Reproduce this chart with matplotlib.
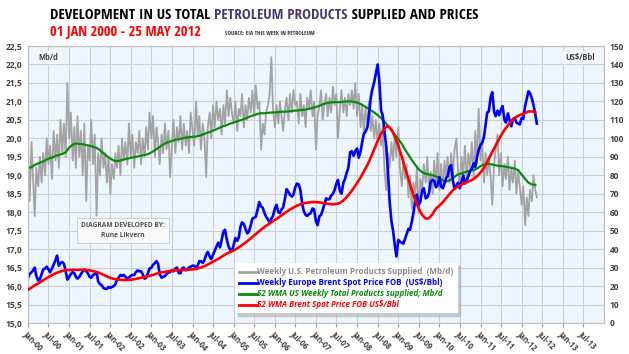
import matplotlib
matplotlib.use("Agg")
import matplotlib.pyplot as plt
from matplotlib import font_manager
import pandas as pd

# ---- data ----
# weekly U.S. petroleum products supplied, Mb/d (sampled twice a month)
supplied = [
    # 2000
    19.6, 18.3, 19.9, 18.9, 17.9, 19.2, 18.7, 19.5, 18.8, 19.6, 19.0, 20.0,
    19.3, 19.8, 18.9, 20.2, 19.4, 20.1, 19.2, 20.5, 19.6, 20.4, 19.5, 21.5,
    # 2001
    20.0, 20.7, 19.4, 20.3, 19.2, 20.6, 19.5, 20.2, 19.0, 20.4, 18.3, 19.8,
    19.4, 20.5, 19.3, 20.1, 17.9, 19.6, 19.0, 20.0, 19.2, 19.6, 18.8, 19.5,
    # 2002
    18.5, 19.3, 18.9, 19.6, 19.2, 19.8, 19.0, 20.0, 19.4, 19.9, 19.3, 20.4,
    19.5, 20.1, 19.2, 19.9, 19.6, 20.2, 19.3, 20.0, 19.5, 20.3, 19.7, 20.7,
    # 2003
    20.0, 20.6, 19.5, 20.3, 19.9, 19.3, 20.1, 19.6, 20.4, 19.7, 20.2, 18.95,
    19.8, 20.5, 19.6, 20.3, 19.9, 20.6, 19.7, 20.4, 19.8, 20.2, 19.6, 20.7,
    # 2004
    20.2, 19.8, 21.0, 20.1, 20.6, 19.7, 20.4, 20.0, 18.95, 20.3, 20.7, 20.0,
    20.9, 20.3, 21.0, 20.5, 20.8, 20.1, 20.9, 20.4, 21.3, 20.6, 21.1, 20.7,
    # 2005
    20.4, 21.0, 20.2, 20.8, 20.6, 21.2, 20.3, 20.9, 20.5, 21.1, 20.7, 21.3,
    20.6, 21.44, 20.8, 21.0, 19.7, 20.4, 20.1, 20.7, 20.9, 21.2, 22.2, 20.8,
    # 2006
    20.3, 20.9, 20.4, 21.0, 20.6, 20.2, 20.8, 21.1, 20.5, 21.2, 20.7, 21.3,
    20.9, 21.0, 20.4, 21.2, 20.6, 20.9, 20.3, 21.1, 20.8, 21.3, 20.6, 21.0,
    # 2007
    19.7, 20.6, 20.9, 21.3, 20.5, 20.9, 21.2, 20.6, 21.1, 20.7, 21.4, 20.9,
    21.2, 20.0, 20.8, 21.3, 20.7, 21.1, 20.6, 21.2, 20.9, 21.3, 20.8, 21.5,
    # 2008
    20.6, 21.2, 20.3, 20.9, 20.1, 20.8, 20.4, 21.0, 20.2, 20.6, 20.0, 20.5,
    19.9, 20.4, 19.8, 20.3, 19.1, 18.6, 19.6, 19.2, 19.9, 19.4, 20.1, 19.5,
    # 2009
    20.3, 19.2, 18.7, 19.5, 18.9, 19.3, 18.4, 19.0, 18.1, 18.8, 18.5, 19.2,
    17.98, 18.9, 18.6, 19.3, 18.8, 19.5, 18.6, 19.1, 18.5, 19.4, 18.7, 19.6,
    # 2010
    18.6, 19.3, 18.7, 19.4, 18.9, 19.5, 18.8, 19.6, 19.0, 19.7, 20.0, 19.1,
    18.7, 19.5, 19.0, 19.8, 18.9, 19.6, 19.2, 19.9, 18.9, 20.2, 19.3, 20.8,
    # 2011
    19.4, 19.9, 18.8, 19.6, 19.0, 19.5, 18.9, 18.2, 19.3, 19.7, 20.1, 19.0,
    19.6, 18.7, 19.3, 18.9, 19.5, 18.6, 19.2, 18.8, 19.4, 18.5, 19.1, 18.7,
    # 2012
    18.2, 18.7, 17.65, 18.4, 17.9, 18.6, 18.3, 19.0, 18.6, 18.4,
]

# weekly Europe Brent spot price FOB, US$/Bbl (sampled twice a month)
brent = [
    24.5, 26.5, 27.5, 28.5, 30.0, 25.5, 23.0, 23.5, 26.5, 29.0, 29.5, 30.5,
    29.0, 27.5, 29.5, 31.5, 34.0, 36.5, 31.0, 32.5, 33.0, 32.0, 28.0, 23.5,
    25.0, 26.5, 27.5, 27.0, 25.0, 24.0, 25.0, 26.5, 28.0, 29.0, 28.0, 27.0,
    25.0, 24.5, 26.0, 26.5, 27.5, 22.5, 21.0, 20.5, 19.0, 18.5, 18.5, 19.5,
    19.0, 19.5, 20.0, 21.0, 23.5, 24.5, 26.0, 25.5, 26.0, 25.0, 24.0, 24.5,
    25.5, 26.0, 26.0, 27.5, 28.5, 28.0, 28.0, 26.5, 24.0, 24.5, 27.0, 29.5,
    30.0, 31.5, 32.5, 33.5, 32.0, 26.5, 24.5, 25.0, 25.5, 26.5, 27.5, 27.5,
    28.5, 28.0, 29.5, 30.0, 27.0, 27.0, 29.5, 30.0, 28.5, 29.0, 30.0, 30.5,
    31.0, 31.0, 30.0, 31.0, 33.5, 33.5, 32.5, 34.0, 37.0, 38.5, 36.0, 34.5,
    37.0, 39.0, 41.5, 43.5, 41.0, 45.0, 49.5, 50.5, 45.0, 41.5, 39.5, 39.0,
    42.5, 46.0, 44.5, 46.5, 52.0, 54.5, 53.5, 51.0, 48.5, 49.5, 53.0, 56.5,
    57.0, 57.5, 61.5, 65.5, 63.0, 62.5, 59.5, 57.5, 56.0, 54.5, 56.5, 58.0,
    62.0, 64.0, 60.0, 59.5, 61.5, 62.5, 67.5, 72.5, 71.0, 69.5, 68.5, 69.5,
    73.5, 75.5, 75.0, 72.0, 64.5, 60.5, 58.5, 58.0, 59.0, 59.5, 62.0, 61.5,
    55.0, 53.0, 58.0, 58.5, 61.0, 64.0, 67.5, 67.0, 67.0, 69.0, 70.0, 72.0,
    75.5, 77.5, 71.5, 70.0, 76.0, 78.0, 81.5, 84.0, 92.5, 93.0, 90.5, 93.0,
    94.5, 89.5, 93.0, 98.0, 102.5, 103.5, 106.0, 112.5, 122.0, 126.5, 130.5, 135.0,
    140.0, 132.0, 115.0, 112.5, 103.0, 96.0, 82.0, 66.5, 55.0, 50.0, 42.0, 36.0,
    45.0, 44.0, 43.5, 43.0, 45.5, 48.0, 51.0, 50.5, 55.0, 59.5, 67.0, 69.5,
    64.0, 65.5, 72.0, 73.0, 67.5, 68.0, 70.5, 76.5, 77.5, 77.0, 73.5, 74.5,
    79.0, 74.0, 73.0, 75.5, 78.5, 79.5, 84.5, 85.5, 77.0, 72.5, 74.5, 76.0,
    73.0, 76.5, 80.0, 75.5, 77.5, 79.5, 82.5, 83.5, 86.5, 84.5, 90.0, 93.5,
    96.5, 97.5, 101.0, 107.5, 114.0, 114.5, 122.5, 125.0, 114.5, 112.0, 115.0, 112.5,
    115.5, 117.5, 110.0, 108.5, 113.5, 110.0, 106.5, 110.5, 111.0, 108.5, 108.0, 107.5,
    111.0, 110.5, 117.5, 121.5, 125.5, 124.5, 121.5, 118.0, 113.0, 108.0,
]

# 52 week moving average, products supplied (monthly)
wma_supplied = [
    19.20, 19.22, 19.28, 19.32, 19.36, 19.40, 19.45, 19.48, 19.52, 19.55, 19.58, 19.62,
    19.75, 19.83, 19.86, 19.85, 19.84, 19.82, 19.80, 19.77, 19.74, 19.68, 19.60, 19.52,
    19.45, 19.40, 19.38, 19.40, 19.43, 19.45, 19.47, 19.49, 19.51, 19.53, 19.55, 19.57,
    19.62, 19.68, 19.74, 19.80, 19.86, 19.90, 19.93, 19.96, 19.98, 20.00, 20.02, 20.03,
    20.04, 20.05, 20.07, 20.10, 20.14, 20.17, 20.21, 20.25, 20.29, 20.33, 20.36, 20.40,
    20.43, 20.46, 20.49, 20.52, 20.56, 20.60, 20.63, 20.66, 20.68, 20.68, 20.69, 20.70,
    20.70, 20.71, 20.72, 20.72, 20.73, 20.74, 20.75, 20.76, 20.77, 20.78, 20.80, 20.82,
    20.85, 20.88, 20.92, 20.95, 20.97, 20.98, 20.98, 20.98, 20.99, 21.00, 21.00, 20.99,
    20.97, 20.93, 20.88, 20.82, 20.76, 20.70, 20.63, 20.55, 20.45, 20.33, 20.22, 20.10,
    19.98, 19.85, 19.70, 19.55, 19.41, 19.28, 19.16, 19.08, 19.04, 19.02, 19.00, 18.97,
    18.92, 18.86, 18.83, 18.86, 18.92, 19.00, 19.04, 19.07, 19.10, 19.12, 19.14, 19.18,
    19.25, 19.29, 19.31, 19.30, 19.28, 19.26, 19.25, 19.24, 19.22, 19.20, 19.18, 19.14,
    19.02, 18.90, 18.80, 18.75, 18.74,
]

# 52 week moving average, Brent spot price (monthly)
wma_brent = [
    18.0, 19.2, 20.4, 21.4, 22.6, 23.8, 24.9, 25.9, 26.9, 27.6, 28.2, 28.6,
    28.7, 28.8, 28.8, 28.8, 28.8, 28.7, 28.5, 28.1, 27.6, 27.0, 26.1, 25.2,
    24.4, 23.9, 23.6, 23.4, 23.3, 23.3, 23.4, 23.7, 24.1, 24.5, 24.9, 25.3,
    25.8, 26.4, 27.0, 27.4, 27.7, 28.0, 28.3, 28.5, 28.6, 28.7, 28.8, 28.9,
    29.0, 29.3, 29.8, 30.4, 31.2, 32.2, 33.2, 34.2, 35.3, 36.5, 37.6, 38.4,
    39.3, 40.4, 41.6, 42.9, 44.3, 45.9, 47.4, 49.0, 50.6, 52.0, 53.3, 54.5,
    55.8, 57.0, 58.3, 59.6, 60.9, 62.0, 63.1, 64.0, 64.6, 65.0, 65.3, 65.5,
    65.5, 65.3, 65.0, 64.7, 64.4, 64.3, 64.5, 65.0, 66.3, 68.2, 70.5, 73.0,
    75.8, 78.8, 82.0, 85.5, 89.5, 94.0, 98.5, 102.5, 105.5, 106.7, 104.8, 101.0,
    96.0, 90.0, 84.0, 78.0, 72.0, 66.5, 62.0, 58.5, 56.5, 56.8, 59.0, 62.0,
    63.5, 65.5, 67.5, 69.8, 72.0, 73.5, 74.5, 75.5, 76.3, 77.0, 78.0, 79.5,
    81.5, 84.0, 87.2, 91.0, 94.5, 98.0, 101.5, 104.5, 107.0, 109.3, 111.0, 112.2,
    113.0, 113.8, 114.5, 114.6, 114.0,
]

legend_labels = [
    "Weekly U.S. Petroleum Products Supplied  (Mb/d)",
    "Weekly Europe Brent Spot Price FOB  (US$/Bbl)",
    "52 WMA US Weekly Total Products supplied; Mb/d",
    "52 WMA Brent Spot Price FOB US$/Bbl",
]


def pick_font(candidates):
    names = {f.name for f in font_manager.fontManager.ttflist}
    for c in candidates:
        if c in names:
            return c
    return "DejaVu Sans"


narrow = pick_font(["Liberation Sans Narrow", "Open Sans Condensed", "Roboto Condensed",
                    "Liberation Sans"])
body = pick_font(["Open Sans", "Lato", "Liberation Sans"])
plt.rcParams["font.family"] = body

W, H = 629, 354
fig = plt.figure(figsize=(W / 100, H / 100), dpi=100)
fig.patch.set_facecolor("white")

ax = fig.add_axes([28 / W, 1 - 323 / H, (604 - 28) / W, (323 - 46) / H])
ax2 = ax.twinx()

semi_dates = pd.date_range("2000-01-01", periods=len(supplied), freq="SMS")
brent_dates = pd.date_range("2000-01-01", periods=len(brent), freq="SMS")
month_dates = pd.date_range("2000-01-01", periods=len(wma_supplied), freq="MS")
month_dates_b = pd.date_range("2000-01-01", periods=len(wma_brent), freq="MS")

ax.set_facecolor("#edf5fd")
l1, = ax.plot(semi_dates, supplied, color="#a3a3a3", lw=1.3, zorder=2)
l3, = ax.plot(month_dates, wma_supplied, color="#0a8a0a", lw=1.6, zorder=3)
l2, = ax2.plot(brent_dates, brent, color="#0000ff", lw=1.9, zorder=2)
l4, = ax2.plot(month_dates_b, wma_brent, color="#ff0000", lw=1.9, zorder=3)

# axes ranges and ticks
ax.set_xlim(pd.Timestamp("2000-01-01"), pd.Timestamp("2014-01-01"))
xticks = pd.date_range("2000-01-01", "2013-07-01", freq="6MS")
ax.set_xticks(xticks)
ax.set_xticklabels([d.strftime("%b-%y") for d in xticks], rotation=-45,
                   ha="left", va="top", rotation_mode="anchor",
                   fontsize=5.5, fontweight="bold", color="#404040")
ax.set_ylim(15, 22.5)
yt = [15 + 0.5 * i for i in range(16)]
ax.set_yticks(yt)
ax.set_yticklabels([f"{v:.1f}".replace(".", ",") for v in yt],
                   fontsize=6, fontweight="bold", color="#404040")
ax2.set_ylim(0, 150)
rt = list(range(0, 151, 10))
ax2.set_yticks(rt)
ax2.set_yticklabels([str(v) for v in rt], fontsize=6, fontweight="bold", color="#404040")

ax.grid(True, color="#c9d0d8", lw=0.8)
ax.set_axisbelow(True)
ax.tick_params(axis="x", length=3, color="#999999", pad=2)
ax.tick_params(axis="y", length=0, pad=4)
ax2.tick_params(axis="y", length=0, pad=4)
for a in (ax, ax2):
    for s in a.spines.values():
        s.set_color("#c0c0c0")
        s.set_linewidth(0.8)

# unit labels inside plot
box = dict(boxstyle="square,pad=0.3", fc="#f4f8fc", ec="none")
ax.text(0.018, 0.975, "Mb/d", transform=ax.transAxes, fontsize=5.5,
        fontweight="bold", color="#404040", va="top", ha="left", bbox=box)
ax.text(0.985, 0.975, "US$/Bbl", transform=ax.transAxes, fontsize=5.5,
        fontweight="bold", color="#404040", va="top", ha="right", bbox=box)

# author box
ax.text(0.165, 0.335, "DIAGRAM DEVELOPED BY:\nRune Likvern", transform=ax.transAxes,
        fontsize=4.8, fontweight="bold", color="#505050", ha="center", va="center",
        linespacing=1.6,
        bbox=dict(boxstyle="square,pad=0.6", fc="#f7f9fb", ec="#c8c8c8", lw=0.6))

# legend
leg = ax2.legend([l1, l2, l3, l4], legend_labels, loc="lower left",
                 bbox_to_anchor=(0.352, 0.02), frameon=True,
                 fancybox=False, shadow={"color": "#b0b0b0", "alpha": 0.6},
                 handlelength=2.2, handletextpad=0.1, labelspacing=0.25,
                 borderpad=0.5, prop={"family": body, "weight": "bold", "size": 5.8})
leg.get_frame().set_edgecolor("none")
leg.get_frame().set_facecolor("white")
text_colors = ["#8c8c8c", "#0000ff", "#0a8a0a", "#ff0000"]
for i, (t, c) in enumerate(zip(leg.get_texts(), text_colors)):
    t.set_color(c)
    if i >= 2:
        t.set_style("italic")
for h in leg.get_lines():
    h.set_linewidth(2.0)

# title in three colours
fig.canvas.draw()
renderer = fig.canvas.get_renderer()
parts = [("DEVELOPMENT IN US TOTAL ", "black"), ("PETROLEUM PRODUCTS", "#4a3870"),
         (" SUPPLIED AND PRICES", "black")]
x = 50 / W
for s, c in parts:
    t = fig.text(x, 1 - 19 / H, s, fontsize=10.8, fontweight="bold", color=c,
                 family=narrow, ha="left", va="baseline")
    bb = t.get_window_extent(renderer)
    x += bb.width / W

fig.text(50 / W, 1 - 36 / H, "01 JAN 2000 - 25 MAY 2012", fontsize=10.4,
         fontstyle="italic", color="#ff0000", family=narrow, ha="left", va="baseline")
fig.text(225 / W, 1 - 35 / H, "SOURCE: EIA THIS WEEK IN PETROLEUM", fontsize=4.2,
         color="#303030", family=narrow, ha="left", va="baseline")

fig.savefig("out.png", dpi=100)
